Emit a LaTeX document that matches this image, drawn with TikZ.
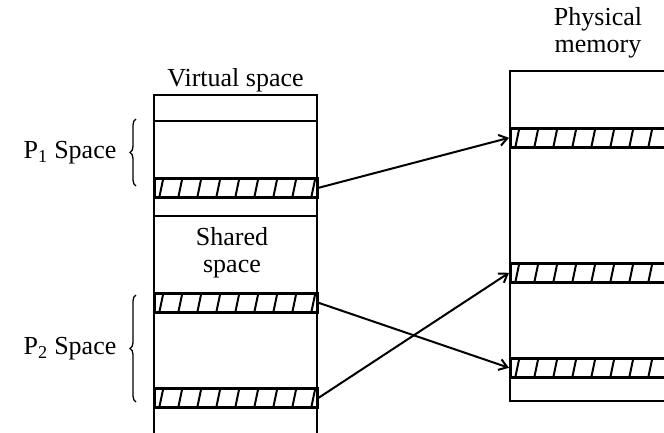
\documentclass[tikz,border=0pt]{standalone}
\usepackage{fontspec}
\setmainfont{Liberation Serif}
\usetikzlibrary{arrows.meta, positioning, decorations.pathreplacing}

\begin{document}
\begin{tikzpicture}
  [
  x = 1pt, y = -1pt,
  % column
  column/.style = {rectangle,
    draw, line width = 2pt,
    inner sep = 0pt,
    anchor = north west},
  % hatched page
  page/.style = {rectangle,
    draw, line width = 2.6pt,
    inner sep = 0pt,
    anchor = north west,
    minimum height = 19pt,
    path picture = {
      \foreach \i in {0,...,12}
        \draw [line width = 2pt]
          ([xshift = \i*19pt+5pt]path picture bounding box.south west) --
          ([xshift = \i*19pt+9pt]path picture bounding box.north west);
    }},
  % text
  lbl/.style = {font = \fontsize{26}{27}\selectfont, inner sep = 1pt},
  % line
  line/.style = {draw, line width = 2pt,
    -{Straight Barb[length = 8pt, width = 11pt]}},
  % brace
  curly/.style = {draw, line width = 1.3pt, decorate,
    decoration = {brace, amplitude = 6pt}},
  ]

  \useasboundingbox (0,0) rectangle (664,432);
  \clip (0,0) rectangle (664,432);

  % nodes
  \node [column, minimum width = 163pt, minimum height = 350pt] (vbox) at (153,94) {};
  \node [column, minimum width = 200pt, minimum height = 330pt] (pbox) at (509,70) {};

  \node [page, minimum width = 163pt] (vp1) at (153,177) {};
  \node [page, minimum width = 163pt] (vp2) at (153,292) {};
  \node [page, minimum width = 163pt] (vp3) at (153,387) {};
  \node [page, minimum width = 200pt] (pp1) at (509,127) {};
  \node [page, minimum width = 200pt] (pp2) at (509,262) {};
  \node [page, minimum width = 200pt] (pp3) at (509,357) {};

  \node [lbl, above = 1pt of vbox.north] (vtitle) {Virtual space};
  \node [lbl, align = center] (ptitle) at (598,33) {Physical\\memory};
  \node [lbl, align = center] (shared) at (232,253) {Shared\\space};

  % dividers
  \draw [line width = 2pt] ([yshift = -27pt]vbox.north west) -- ([yshift = -27pt]vbox.north east);
  \draw [line width = 2pt] ([yshift = -122pt]vbox.north west) -- ([yshift = -122pt]vbox.north east);

  % braces
  \draw [curly] (136,186) -- node [lbl, left = 18pt] (p1) {P\textsubscript{1} Space} (136,119);
  \draw [curly] (136,402) -- node [lbl, left = 18pt] (p2) {P\textsubscript{2} Space} (136,295);

  % path
  \path [line] (vp1.east) -- (pp1.west);
  \path [line] (vp2.east) -- (pp3.west);
  \path [line] (vp3.east) -- (pp2.west);

\end{tikzpicture}
\end{document}
